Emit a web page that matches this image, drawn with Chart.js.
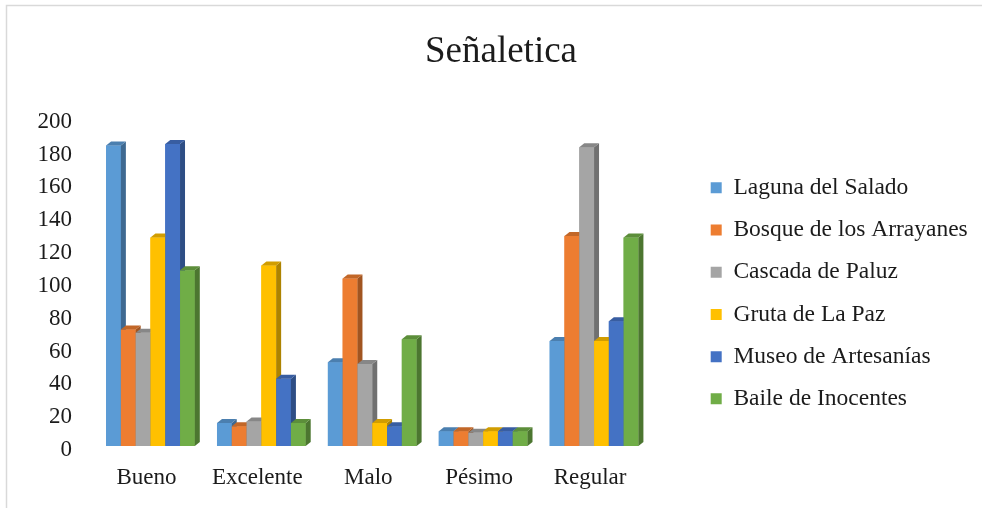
<!DOCTYPE html>
<html>
<head>
<meta charset="utf-8">
<script src="https://cdn.jsdelivr.net/npm/chart.js@4/dist/chart.umd.min.js"></script>
<style>
  html, body { margin: 0; padding: 0; background: #ffffff; }
  #wrap { position: relative; width: 982px; height: 508px; }
</style>
</head>
<body>
<div id="wrap"><canvas id="chart"></canvas></div>
<script>
// Survey answers about signage at each site
const categories = ['Bueno', 'Excelente', 'Malo', 'Pésimo', 'Regular'];
const seriesNames = ['Laguna del Salado', 'Bosque de los Arrayanes', 'Cascada de Paluz',
                     'Gruta de La Paz', 'Museo de Artesanías', 'Baile de Inocentes'];
const lagunaDelSalado = [183, 14, 51, 9, 64];
const bosqueArrayanes = [71, 12, 102, 9, 128];
const cascadaPaluz = [69, 15, 50, 8, 182];
const grutaLaPaz = [127, 110, 14, 9, 64];
const museoArtesanias = [184, 41, 12, 9, 76];
const baileInocentes = [107, 14, 65, 9, 127];
const yTicks = [0, 20, 40, 60, 80, 100, 120, 140, 160, 180, 200];

const seriesValues = [lagunaDelSalado, bosqueArrayanes, cascadaPaluz,
                      grutaLaPaz, museoArtesanias, baileInocentes];
const colors = ['#5B9BD5', '#ED7D31', '#A5A5A5', '#FFC000', '#4472C4', '#70AD47'];

const SERIF = "'Liberation Serif', 'Times New Roman', serif";
const TEXT = '#1b1b1b';
const LEGEND_LEFT = 692;

function shade(hex, f) {
  const n = parseInt(hex.slice(1), 16);
  const r = Math.round(((n >> 16) & 255) * f);
  const g = Math.round(((n >> 8) & 255) * f);
  const b = Math.round((n & 255) * f);
  return `rgb(${r},${g},${b})`;
}

// Extruded look for the columns: side and top faces, drawn left to right
const columns3d = {
  id: 'columns3d',
  afterDatasetsDraw(chart) {
    const ctx = chart.ctx;
    const dx = 5, dy = 4;
    const metas = chart.data.datasets.map((_, i) => chart.getDatasetMeta(i));
    const poly = (pts, fill) => {
      ctx.beginPath();
      ctx.moveTo(pts[0][0], pts[0][1]);
      for (let k = 1; k < pts.length; k++) ctx.lineTo(pts[k][0], pts[k][1]);
      ctx.closePath();
      ctx.fillStyle = fill;
      ctx.fill();
    };
    ctx.save();
    for (let j = 0; j < chart.data.labels.length; j++) {
      metas.forEach((meta, i) => {
        const bar = meta.data[j];
        if (!bar) return;
        const { x, y, base, width } = bar.getProps(['x', 'y', 'base', 'width'], true);
        const l = x - width / 2, r = x + width / 2;
        ctx.fillStyle = colors[i];
        ctx.fillRect(l, y, width, base - y);
        poly([[r, y], [r + dx, y - dy], [r + dx, base - dy], [r, base]], shade(colors[i], 0.68));
        poly([[l, y], [l + dx, y - dy], [r + dx, y - dy], [r, y]], shade(colors[i], 0.82));
      });
    }
    ctx.restore();
  }
};

// Let the legend column use all the room to the right of the plot
const legendBox = {
  id: 'legendBox',
  afterLayout(chart) {
    const lg = chart.legend;
    if (!lg) return;
    lg.left = LEGEND_LEFT;
    lg.right = chart.width;
    lg.width = lg.right - lg.left;
  }
};

// White background and the thin outline of the chart box
const frame = {
  id: 'frame',
  beforeDraw(chart) {
    const ctx = chart.ctx;
    ctx.save();
    ctx.fillStyle = '#ffffff';
    ctx.fillRect(0, 0, chart.width, chart.height);
    ctx.strokeStyle = '#d9d9d9';
    ctx.lineWidth = 1.5;
    ctx.strokeRect(6.5, 5.5, chart.width + 20, chart.height + 20);
    ctx.restore();
  }
};

Chart.defaults.font.family = SERIF;
Chart.defaults.color = TEXT;

new Chart(document.getElementById('chart'), {
  type: 'bar',
  data: {
    labels: categories,
    datasets: seriesNames.map((name, i) => ({
      label: name,
      data: seriesValues[i],
      backgroundColor: colors[i],
      borderWidth: 0,
      categoryPercentage: 0.8,
      barPercentage: 1.0
    }))
  },
  options: {
    responsive: true,
    maintainAspectRatio: false,
    animation: false,
    layout: { padding: { left: 20, right: 0, top: 0, bottom: 0 } },
    plugins: {
      title: {
        display: true,
        text: 'Señaletica',
        color: TEXT,
        font: { family: SERIF, size: 37, weight: 'normal' },
        padding: { top: 30, bottom: 43.3 }
      },
      legend: {
        position: 'right',
        align: 'center',
        fullSize: false,
        title: { display: true, text: '', font: { size: 10 }, padding: 5.5 },
        labels: {
          boxWidth: 11,
          boxHeight: 11,
          padding: 18.7,
          color: TEXT,
          font: { family: SERIF, size: 23.5 }
        }
      },
      tooltip: { enabled: false }
    },
    scales: {
      x: {
        grid: { display: false, drawTicks: false },
        border: { display: false },
        ticks: {
          font: { family: SERIF, size: 23 },
          color: TEXT,
          padding: 18,
          labelOffset: -4,
          maxRotation: 0,
          autoSkip: false
        },
        afterFit(scale) { scale.height = 62; }
      },
      y: {
        min: 0,
        max: 200,
        grid: { display: false, drawTicks: false },
        border: { display: false },
        afterBuildTicks(scale) { scale.ticks = yTicks.map(v => ({ value: v })); },
        ticks: {
          font: { family: SERIF, size: 23 },
          color: TEXT,
          padding: 23,
          labelOffset: 4
        },
        afterFit(scale) { scale.width = 75; }
      },
      gap: {
        type: 'linear',
        position: 'right',
        grid: { display: false, drawTicks: false },
        border: { display: false },
        ticks: { display: false },
        afterFit(scale) { scale.width = 172.17; }
      }
    }
  },
  plugins: [frame, legendBox, columns3d]
});
</script>
</body>
</html>
